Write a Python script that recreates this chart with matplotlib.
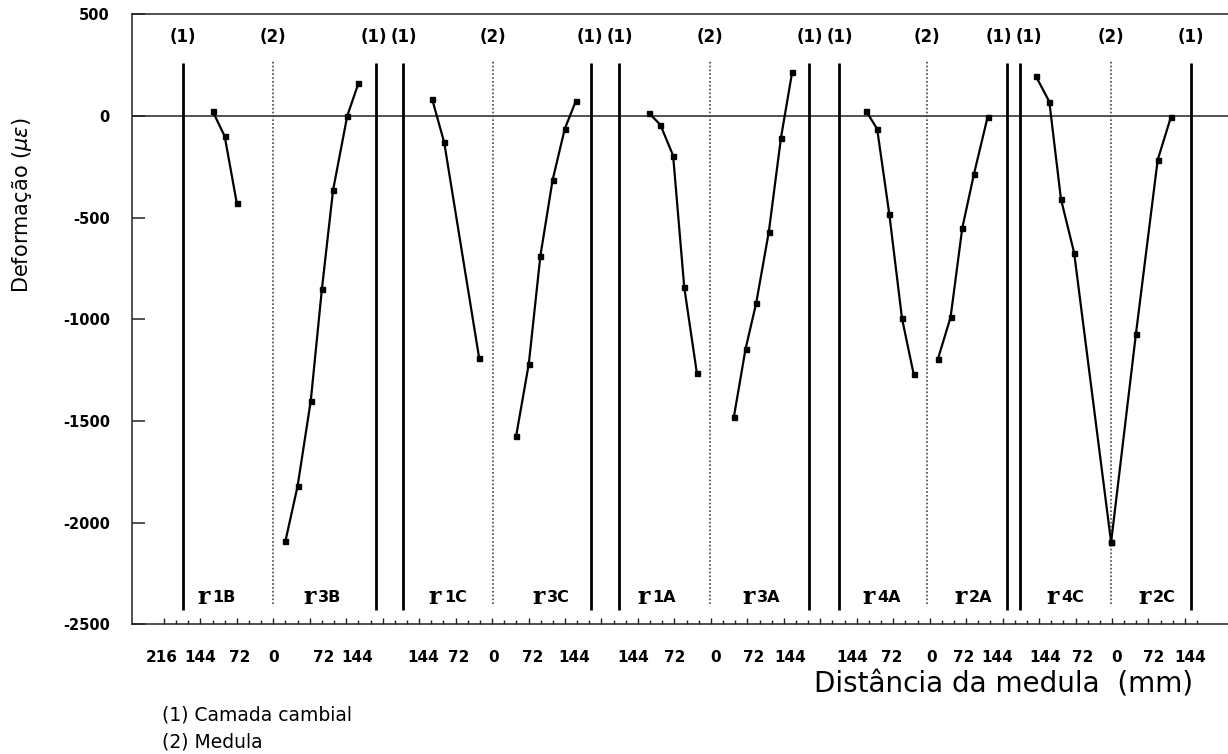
import matplotlib
matplotlib.use("Agg")
import matplotlib.pyplot as plt
import matplotlib.transforms as mtransforms
import numpy as np

# ---- strain profiles: distance from the pith (mm) and strain (micro-strain) ----
r1B_dist = [120, 96, 72]
r1B_strain = [25, -100, -430]
r3B_dist = [24, 48, 74, 96, 118, 146, 168]
r3B_strain = [-2090, -1820, -1400, -850, -365, 0, 160]

r1C_dist = [121, 97, 28]
r1C_strain = [85, -130, -1190]
r3C_dist = [45, 70, 93, 117, 141, 163]
r3C_strain = [-1575, -1220, -687, -316, -64, 74]

r1A_dist = [120, 98, 73, 51, 26]
r1A_strain = [13, -44, -195, -843, -1266]
r3A_dist = [47, 70, 91, 116, 140, 162]
r3A_strain = [-1480, -1146, -921, -569, -107, 215]

r4A_dist = [120, 98, 74, 49, 26]
r4A_strain = [25, -64, -484, -995, -1269]
r2A_dist = [22, 47, 70, 93, 120]
r2A_strain = [-1195, -989, -552, -287, -6]

r4C_dist = [149, 122, 99, 73, 0]
r4C_strain = [198, 70, -409, -673, -2097]
r2C_dist = [0, 49, 92, 118]
r2C_strain = [-2097, -1072, -216, -6]

# pairs of radii sharing one pith (left radius drawn towards the left)
section_names = [("1B", "3B"), ("1C", "3C"), ("1A", "3A"), ("4A", "2A"), ("4C", "2C")]
section_data = [
    ((r1B_dist, r1B_strain), (r3B_dist, r3B_strain)),
    ((r1C_dist, r1C_strain), (r3C_dist, r3C_strain)),
    ((r1A_dist, r1A_strain), (r3A_dist, r3A_strain)),
    ((r4A_dist, r4A_strain), (r2A_dist, r2A_strain)),
    ((r4C_dist, r4C_strain), (r2C_dist, r2C_strain)),
]
# cambium distance from the pith (mm), left and right radius
cambium_left = [177.7, 178.9, 179.7, 172.6, 179.7]
cambium_right = [202.8, 192.9, 196.1, 159.2, 158.0]

# ---- layout along the shared x axis (mm) ----
pith_pos = [0.0, 434.4, 862.4, 1290.3, 1654.2]
label_offset = [(-111, 98), (-88, 116), (-104, 103), (-88, 93), (-89, 93)]
tick_label_pos = [-220.4, -144.7, -65.8, 0, 100.1, 164.7,
                  296.2, 365.3, 434.4, 511.5, 593.8,
                  710.9, 793.2, 874.2, 949.3, 1020.4,
                  1142.2, 1221.2, 1300.2, 1362.6, 1428.5,
                  1523.9, 1598.3, 1665.5, 1737.8, 1810.2]
tick_label_txt = ["216", "144", "72", "0", "72", "144",
                  "144", "72", "0", "72", "144",
                  "144", "72", "0", "72", "144",
                  "144", "72", "0", "72", "144",
                  "144", "72", "0", "72", "144"]
y_ticks = [-2500, -2000, -1500, -1000, -500, 0, 500]

W, H = 1228, 754
fig = plt.figure(figsize=(W / 100, H / 100), dpi=100)
ax = fig.add_axes([132 / W, 1 - 624.3 / H, (W - 132) / W, 610 / H])
ax.set_xlim(-279, 1885)
ax.set_ylim(-2500, 500)

for s in ("left", "top", "bottom"):
    ax.spines[s].set_linewidth(1.1)
    ax.spines[s].set_color("#222222")
ax.spines["right"].set_visible(False)

# y axis
ax.set_yticks(y_ticks)
ax.set_yticklabels([str(v) for v in y_ticks], fontsize=10.5, fontweight="bold")
ax.tick_params(axis="y", direction="in", length=9.5, width=1.1, pad=16, color="#222222")

# x axis: ticks every 24 mm, taller ones every 72 mm
minor = np.arange(-216, 1825, 24)
major = minor[minor % 72 == 0]
ax.set_xticks(major)
ax.set_xticks(minor[minor % 72 != 0], minor=True)
ax.set_xticklabels([])
ax.tick_params(axis="x", which="major", direction="in", length=4.5, width=1.0, color="#222222")
ax.tick_params(axis="x", which="minor", direction="in", length=2.6, width=1.0, color="#222222")

tr_x = mtransforms.blended_transform_factory(ax.transData, ax.transAxes)
for xp, t in zip(tick_label_pos, tick_label_txt):
    ax.text(xp, -0.054, t, transform=tr_x, ha="center", va="center",
            fontsize=11, fontweight="bold")

ax.axhline(0, color="#333333", lw=1.2, zorder=1)

cambium_x = []
for i, pith in enumerate(pith_pos):
    xl = pith - cambium_left[i]
    xr = pith + cambium_right[i]
    cambium_x += [xl, xr]
    ax.vlines([xl, xr], -2430, 262, color="black", lw=2.0, zorder=2)
    ax.vlines(pith, -2400, 275, color="#444444", lw=1.2,
              linestyles=(0, (1, 1.3)), zorder=2)
    ax.text(pith, 387, "(2)", ha="center", va="center", fontsize=12, fontweight="bold")

    for side, (d, v) in zip((-1, 1), section_data[i]):
        ax.plot(pith + side * np.asarray(d), v, color="black", lw=1.6,
                marker="s", ms=3.6, zorder=3)

    for k, name in enumerate(section_names[i]):
        cx = pith + label_offset[i][k]
        ax.annotate("r", (cx, -2367), xytext=(-14.4, 0.5), textcoords="offset points",
                    ha="left", va="center", fontsize=17, fontweight="bold",
                    family="DejaVu Serif")
        ax.annotate(name, (cx, -2367), xytext=(-3.6, 0), textcoords="offset points",
                    ha="left", va="center", fontsize=11.5, fontweight="bold")

# cambium markers "(1)", spread apart where two lines sit close together
gap = 30 / 0.5064
pos = list(cambium_x)
for j in range(1, len(pos) - 1, 2):
    a, b = cambium_x[j], cambium_x[j + 1]
    if b - a < gap:
        m = 0.5 * (a + b)
        pos[j], pos[j + 1] = m - gap / 2, m + gap / 2
for xp in pos:
    ax.text(xp, 387, "(1)", ha="center", va="center", fontsize=12, fontweight="bold")

fig.text(22 / W, 1 - 205 / H, r"Deformação ($\mu\varepsilon$)", rotation=90,
         ha="center", va="center", fontsize=15)
fig.text(1193 / W, 1 - 685 / H, "Distância da medula  (mm)", ha="right",
         va="center", fontsize=20)
fig.text(161.7 / W, 1 - 715 / H, "(1) Camada cambial", ha="left", va="center", fontsize=13.5)
fig.text(161.7 / W, 1 - 741.7 / H, "(2) Medula", ha="left", va="center", fontsize=13.5)

fig.savefig("out.png", dpi=100)
